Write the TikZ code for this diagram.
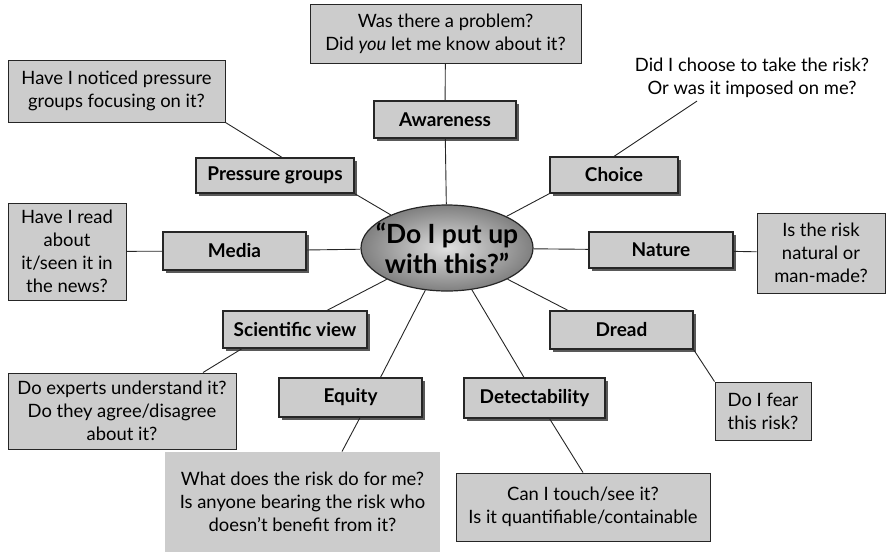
\documentclass[tikz,border=0pt]{standalone}
\usepackage{fontspec}
\setmainfont{Lato}
\usetikzlibrary{shapes.geometric,shadows}
\newcommand\qtext{\fontsize{18.4}{23}\selectfont}
\begin{document}
\begin{tikzpicture}[x=1pt,y=-1pt,
  catbox/.style={draw=black!85, line width=1.2pt, fill=black!20,
    font=\fontsize{19}{22}\selectfont\bfseries, inner sep=0pt,
    drop shadow={shadow xshift=3pt, shadow yshift=-3pt, fill=black!65, opacity=1}},
  qbox/.style={draw=black!85, line width=1pt, fill=black!20, align=center,
    font=\qtext, inner sep=0pt},
  qplain/.style={align=center, font=\qtext, inner sep=0pt},
  link/.style={draw=black!85, line width=0.9pt}]
\useasboundingbox (0,0) rectangle (893,555);

% central question: the ellipse keeps its own size, the words sit on it as a label
\node (hub) [ellipse, draw=black!85, line width=1.2pt, inner color=black!12, outer color=black!50,
  minimum width=172, minimum height=86, inner sep=0pt,
  label={[align=center, font=\fontsize{26.5}{30}\selectfont\bfseries]center:“Do I put up\\with this?”}]
  at (447,248) {};

% factor boxes
\node (aw)  [catbox, minimum width=142, minimum height=37] at (445,119.5) {Awareness};
\node (pg)  [catbox, minimum width=158, minimum height=35] at (275,175.5) {Pressure groups};
\node (ch)  [catbox, minimum width=128, minimum height=36] at (614,175) {Choice};
\node (md)  [catbox, minimum width=143, minimum height=38] at (234.5,251) {Media};
\node (nt)  [catbox, minimum width=144, minimum height=36] at (661,250) {Nature};
\node (sc)  [catbox, minimum width=144, minimum height=37] at (295,329.5) {Scientific view};
\node (dr)  [catbox, minimum width=143, minimum height=38] at (621.5,330) {Dread};
\node (eq)  [catbox, minimum width=143, minimum height=39] at (350.5,397.5) {Equity};
\node (dt)  [catbox, minimum width=141, minimum height=40] at (534.5,398) {Detectability};

% questions
\node (awq) [qbox, minimum width=271, minimum height=59] at (445.5,33.5)
  {Was there a problem?\\Did \textit{you} let me know about it?};
\node (pgq) [qbox, minimum width=217, minimum height=62] at (116.5,91)
  {Have I noticed pressure\\groups focusing on it?};
\node (chq) [qplain] at (752,78)
  {Did I choose to take the risk?\\Or was it imposed on me?};
\node (mdq) [qbox, minimum width=118, minimum height=97] at (67,251.5)
  {Have I read\\about\\it/seen it in\\the news?};
\node (ntq) [qbox, minimum width=128, minimum height=80] at (821,253)
  {Is the risk\\natural or\\man-made?};
\node (scq) [qbox, minimum width=228, minimum height=76] at (122,411)
  {Do experts understand it?\\Do they agree/disagree\\about it?};
\node (drq) [qbox, minimum width=96, minimum height=58] at (763,411)
  {Do I fear\\this risk?};
\node (eqq) [qbox, draw=none, minimum width=275, minimum height=100] at (302.5,502)
  {What does the risk do for me?\\Is anyone bearing the risk who\\doesn’t benefit from it?};
\node (dtq) [qbox, minimum width=254, minimum height=68] at (583,507)
  {Can I touch/see it?\\Is it quantifiable/containable};

% connectors
\draw[link] (awq) -- (aw);
\draw[link] (aw) -- (hub);
\draw[link] (pgq.south east) -- ([xshift=7pt]pg.north);
\draw[link] (pg.south east) -- (hub);
\draw[link] ([xshift=-55pt,yshift=-3pt]chq.south) -- (ch.north);
\draw[link] (ch.south west) -- (hub);
\draw[link] (mdq) -- (md);
\draw[link] (md) -- (hub);
\draw[link] (hub) -- (nt);
\draw[link] (nt) -- (ntq);
\draw[link] ([xshift=32pt]sc.north) -- (hub);
\draw[link] ([xshift=-53pt]sc.south) -- ([xshift=81pt]scq.north);
\draw[link] ([xshift=-53.5pt]dr.north) -- (hub);
\draw[link] (dr.south east) -- (drq.north west);
\draw[link] ([xshift=30pt]eq.north) -- (hub);
\draw[link] ([xshift=9.5pt]eq.south) -- ([xshift=39.5pt]eqq.north);
\draw[link] ([xshift=-10.5pt]dt.north) -- (hub);
\draw[link] ([xshift=15pt]dt.south) -- (dtq.north);
\end{tikzpicture}
\end{document}
